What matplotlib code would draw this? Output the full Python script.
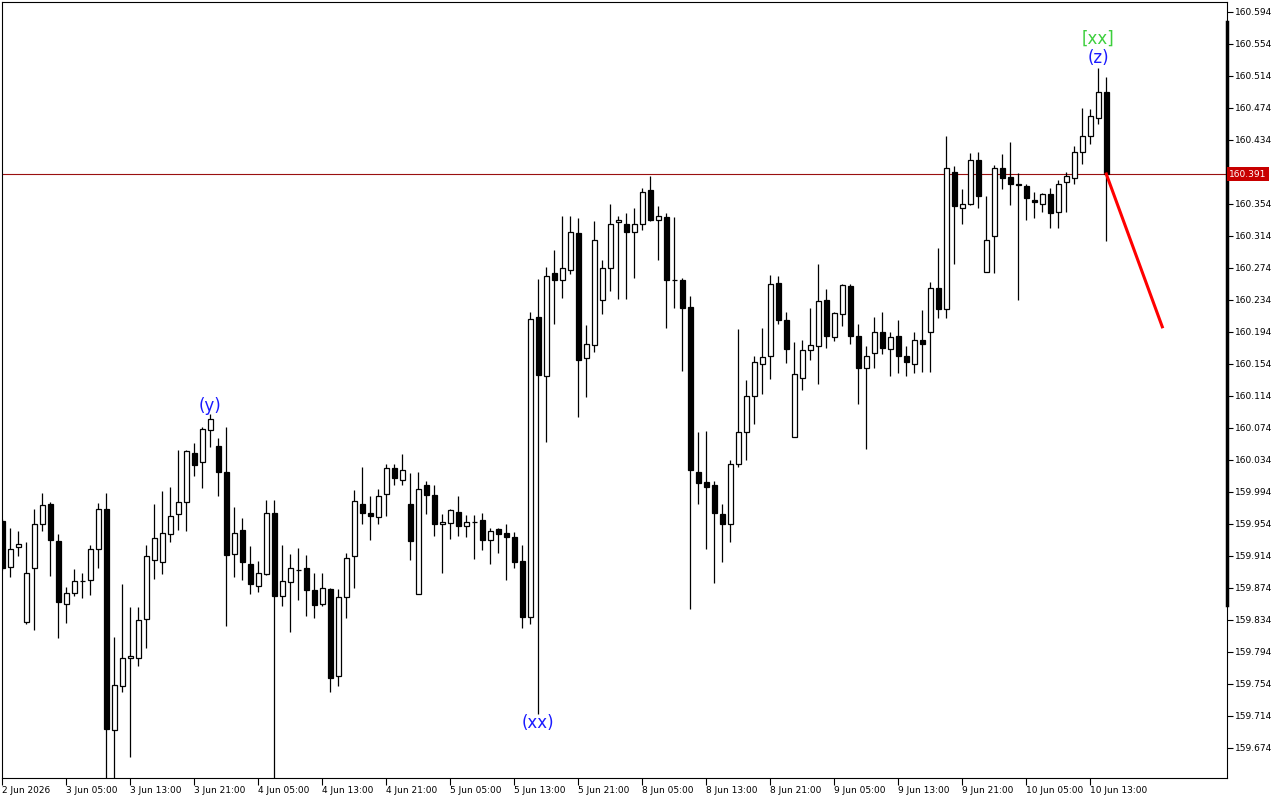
#!/usr/bin/env python

import matplotlib
matplotlib.use('Agg')
import matplotlib.pyplot as plt
import matplotlib.transforms as mtransforms

plt.rc("font", family="DejaVu Sans", size=6.5)

# hourly bars (open, high, low, close)
opens = [159.957, 159.900, 159.925, 159.831, 159.899, 159.954, 159.979, 159.932, 159.854, 159.867,
         159.882, 159.883, 159.922, 159.972, 159.696, 159.751, 159.786, 159.786, 159.835, 159.908,
         159.906, 159.941, 159.966, 159.981, 160.042, 160.031, 160.071, 160.051, 160.019, 159.916,
         159.946, 159.904, 159.876, 159.891, 159.967, 159.864, 159.881, 159.896, 159.898, 159.871,
         159.854, 159.872, 159.763, 159.862, 159.913, 159.979, 159.967, 159.962, 159.991, 160.024,
         160.009, 159.979, 159.866, 160.002, 159.990, 159.953, 159.955, 159.969, 159.951, 159.956,
         159.958, 159.934, 159.947, 159.942, 159.937, 159.907, 159.837, 160.212, 160.139, 160.267,
         160.258, 160.271, 160.317, 160.161, 160.177, 160.233, 160.273, 160.331, 160.329, 160.318,
         160.328, 160.371, 160.333, 160.337, 160.259, 160.259, 160.225, 160.019, 160.006, 160.002,
         159.966, 159.953, 160.028, 160.069, 160.113, 160.154, 160.163, 160.255, 160.208, 160.062,
         160.136, 160.171, 160.176, 160.233, 160.187, 160.216, 160.251, 160.188, 160.148, 160.167,
         160.193, 160.172, 160.188, 160.164, 160.154, 160.184, 160.194, 160.248, 160.222, 160.394,
         160.349, 160.353, 160.408, 160.268, 160.314, 160.399, 160.387, 160.378, 160.376, 160.359,
         160.353, 160.366, 160.343, 160.381, 160.386, 160.419, 160.439, 160.461, 160.493]
highs = [159.960, 159.948, 159.945, 159.931, 159.972, 159.992, 159.981, 159.941, 159.875, 159.897,
         159.892, 159.927, 159.980, 159.992, 159.812, 159.878, 159.850, 159.850, 159.927, 159.979,
         159.995, 160.000, 160.046, 160.046, 160.055, 160.075, 160.091, 160.061, 160.075, 159.975,
         159.961, 159.926, 159.907, 159.984, 159.984, 159.927, 159.916, 159.924, 159.915, 159.892,
         159.892, 159.873, 159.872, 159.917, 159.996, 160.025, 159.989, 159.997, 160.029, 160.029,
         160.041, 160.017, 160.018, 160.007, 160.002, 159.966, 159.972, 159.989, 159.965, 159.965,
         159.967, 159.948, 159.948, 159.954, 159.944, 159.927, 160.218, 160.260, 160.275, 160.296,
         160.339, 160.339, 160.336, 160.202, 160.332, 160.284, 160.354, 160.339, 160.342, 160.348,
         160.373, 160.389, 160.351, 160.342, 160.337, 160.261, 160.238, 160.069, 160.070, 160.007,
         159.979, 160.034, 160.197, 160.134, 160.164, 160.199, 160.265, 160.264, 160.219, 160.181,
         160.183, 160.223, 160.278, 160.247, 160.219, 160.253, 160.253, 160.203, 160.176, 160.212,
         160.218, 160.194, 160.209, 160.176, 160.193, 160.221, 160.256, 160.299, 160.439, 160.401,
         160.372, 160.417, 160.418, 160.364, 160.402, 160.416, 160.431, 160.392, 160.378, 160.369,
         160.367, 160.373, 160.383, 160.393, 160.426, 160.473, 160.472, 160.524, 160.512]
lows = [159.896, 159.887, 159.913, 159.829, 159.821, 159.945, 159.889, 159.811, 159.830, 159.863,
        159.861, 159.865, 159.899, 159.621, 159.621, 159.744, 159.662, 159.776, 159.799, 159.885,
        159.891, 159.931, 159.946, 159.945, 160.014, 159.998, 160.050, 159.988, 159.826, 159.887,
        159.883, 159.866, 159.869, 159.890, 159.621, 159.851, 159.818, 159.859, 159.838, 159.836,
        159.851, 159.744, 159.751, 159.836, 159.873, 159.953, 159.934, 159.954, 159.964, 160.002,
        160.002, 159.909, 159.866, 159.966, 159.938, 159.892, 159.935, 159.938, 159.937, 159.910,
        159.921, 159.903, 159.917, 159.884, 159.898, 159.824, 159.828, 159.716, 160.056, 160.203,
        160.236, 160.266, 160.087, 160.112, 160.168, 160.216, 160.245, 160.235, 160.235, 160.261,
        160.321, 160.332, 160.283, 160.199, 160.223, 160.145, 159.847, 159.978, 159.922, 159.880,
        159.906, 159.931, 160.025, 160.033, 160.078, 160.116, 160.135, 160.203, 160.155, 160.062,
        160.121, 160.158, 160.129, 160.173, 160.182, 160.201, 160.178, 160.104, 160.047, 160.148,
        160.166, 160.138, 160.142, 160.138, 160.142, 160.143, 160.144, 160.211, 160.211, 160.279,
        160.329, 160.352, 160.348, 160.268, 160.267, 160.372, 160.352, 160.233, 160.334, 160.336,
        160.344, 160.323, 160.323, 160.343, 160.379, 160.403, 160.428, 160.453, 160.307]
closes = [159.899, 159.922, 159.928, 159.892, 159.954, 159.977, 159.934, 159.856, 159.867, 159.882,
          159.882, 159.922, 159.972, 159.697, 159.752, 159.786, 159.788, 159.834, 159.914, 159.936,
          159.942, 159.964, 159.981, 160.045, 160.027, 160.072, 160.085, 160.018, 159.915, 159.942,
          159.906, 159.878, 159.892, 159.967, 159.863, 159.882, 159.898, 159.896, 159.871, 159.852,
          159.873, 159.761, 159.862, 159.911, 159.982, 159.967, 159.963, 159.989, 160.023, 160.011,
          160.021, 159.932, 159.997, 159.990, 159.953, 159.956, 159.971, 159.951, 159.956, 159.956,
          159.934, 159.945, 159.941, 159.937, 159.906, 159.837, 160.210, 160.140, 160.264, 160.259,
          160.273, 160.318, 160.159, 160.179, 160.308, 160.273, 160.328, 160.333, 160.318, 160.328,
          160.369, 160.333, 160.338, 160.258, 160.258, 160.223, 160.021, 160.005, 160.000, 159.967,
          159.954, 160.029, 160.069, 160.114, 160.156, 160.162, 160.254, 160.208, 160.172, 160.141,
          160.171, 160.177, 160.232, 160.188, 160.217, 160.252, 160.188, 160.148, 160.163, 160.193,
          160.173, 160.187, 160.163, 160.156, 160.183, 160.179, 160.248, 160.222, 160.398, 160.351,
          160.353, 160.408, 160.363, 160.308, 160.398, 160.386, 160.378, 160.377, 160.361, 160.356,
          160.366, 160.342, 160.379, 160.388, 160.419, 160.438, 160.463, 160.493, 160.391]

time_labels = ["2 Jun 2026", "3 Jun 05:00", "3 Jun 13:00", "3 Jun 21:00", "4 Jun 05:00",
               "4 Jun 13:00", "4 Jun 21:00", "5 Jun 05:00", "5 Jun 13:00", "5 Jun 21:00",
               "8 Jun 05:00", "8 Jun 13:00", "8 Jun 21:00", "9 Jun 05:00", "9 Jun 13:00",
               "9 Jun 21:00", "10 Jun 05:00", "10 Jun 13:00"]
bars_per_label = 8

price_ticks = [160.594 - 0.040 * k for k in range(24)]
last_price = 160.391

# wave marks: (bar index, price, text, colour)
wave_marks = [(26, 160.101, "(y)", "#1a1aff"),
              (67, 159.705, "(xx)", "#1a1aff"),
              (137, 160.536, "(z)", "#1a1aff"),
              (137, 160.560, "[xx]", "#3ccf3c")]
# projected move from the last close
proj_bars = [138, 145]
proj_prices = [160.391, 160.200]

fig = plt.figure(figsize=(12.8, 8), dpi=100)
ax = fig.add_axes([2 / 1280, 22 / 800, 1225 / 1280, 776 / 800])

idx = range(len(opens))
ax.vlines(idx, lows, highs, color="black", lw=0.9, zorder=2)
fills = ["white" if c > o else "black" for o, c in zip(opens, closes)]
heights = [c - o for o, c in zip(opens, closes)]
ax.bar(idx, heights, bottom=opens, width=0.6, color=fills,
       edgecolor="black", linewidth=0.9, zorder=3)

ax.axhline(last_price, color="#9a1010", lw=0.8, zorder=1)
ax.plot(proj_bars, proj_prices, color="#ff0000", lw=2.2, zorder=4)

for i, p, s, c in wave_marks:
    ax.text(i, p, s, color=c, fontsize=12, ha="center", va="center", zorder=5)

ax.set_xlim(-0.04, 153.09)
ax.set_ylim(159.636, 160.606)

ax.set_xticks([k * bars_per_label for k in range(len(time_labels))])
ax.set_xticklabels(time_labels, ha="left")
ax.set_yticks(price_ticks)
# the price tag hides the label next to it, as in the terminal
ax.set_yticklabels(["" if abs(v - last_price) < 0.02 else f"{v:.3f}" for v in price_ticks])
ax.yaxis.tick_right()
ax.tick_params(axis="x", direction="out", length=5, width=0.8, pad=1)
ax.tick_params(axis="y", direction="out", length=4, width=0.8, pad=2)
for sp in ax.spines.values():
    sp.set_linewidth(0.8)

# thick scale bar on the right border, and the price tag
trans = mtransforms.blended_transform_factory(ax.transAxes, ax.transData)
ax.plot([1, 1], [160.581, 159.852], transform=trans, color="black", lw=2.5,
        clip_on=False, zorder=6)
ax.text(1.0018, last_price, f"{last_price:.3f}", transform=trans, color="white",
        fontsize=6.5, ha="left", va="center", zorder=7, clip_on=False,
        bbox=dict(boxstyle="square,pad=0.25", facecolor="#c80000", edgecolor="none"))

fig.savefig("out.png", dpi=100, facecolor="white")
